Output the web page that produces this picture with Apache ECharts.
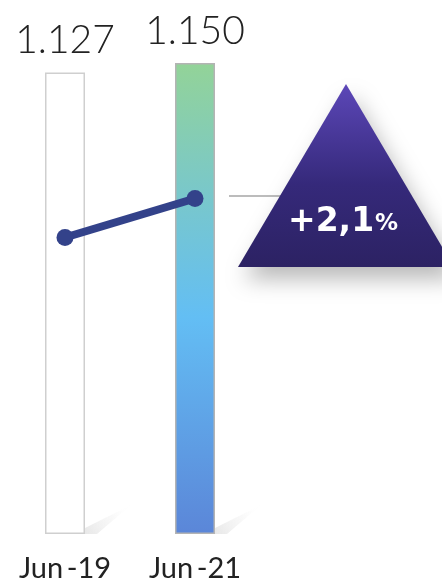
<!DOCTYPE html>
<html>
<head>
<meta charset="utf-8">
<script src="https://cdn.jsdelivr.net/npm/echarts@6/dist/echarts.min.js"></script>
<style>
html,body{margin:0;padding:0;background:#fff;}
#c{width:442px;height:587px;}
</style>
</head>
<body>
<div id="c"></div>
<script>
var categories = ['Jun-19', 'Jun-21'];
var barValues = [1127, 1150];
var barLabels = ['1.127', '1.150'];
var lineValues = [1127, 1150];
var changeLabel = '+2,1';

var chart = echarts.init(document.getElementById('c'));

var shadowSeries = {
  type: 'custom',
  xAxisIndex: 0,
  yAxisIndex: 0,
  silent: true,
  z: 0,
  data: categories.map(function (c, i) { return [i, 0]; }),
  renderItem: function (params, api) {
    var p = api.coord([api.value(0), 0]);
    var rx = p[0] + 20;
    var by = p[1];
    return {
      type: 'polygon',
      shape: { points: [[rx, by], [rx, by - 6], [rx + 46, by - 29], [rx + 12, by]] },
      style: {
        fill: new echarts.graphic.LinearGradient(0, 1, 1, 0, [
          { offset: 0, color: 'rgba(215,215,215,0.6)' },
          { offset: 0.6, color: 'rgba(238,238,238,0.35)' },
          { offset: 1, color: 'rgba(255,255,255,0)' }
        ])
      }
    };
  }
};

var option = {
  animation: false,
  grid: { left: 0, right: 182, top: 63, bottom: 53, containLabel: false },
  xAxis: {
    type: 'category',
    data: categories,
    boundaryGap: true,
    axisLine: { show: false },
    axisTick: { show: false },
    axisLabel: {
      color: '#222',
      fontFamily: 'Lato',
      fontSize: 29,
      margin: 20,
      formatter: function (v) { return v.replace('-', '\u2009-'); }
    }
  },
  yAxis: [
    { type: 'value', min: 0, max: 1150, show: false },
    { type: 'value', min: 952, max: 1230, show: false }
  ],
  series: [
    shadowSeries,
    {
      type: 'bar',
      barWidth: 40,
      z: 2,
      data: barValues.map(function (v, i) {
        if (i === 0) {
          return { value: v, itemStyle: { color: '#ffffff', borderColor: '#cfcfcf', borderWidth: 1.5 } };
        }
        return {
          value: v,
          itemStyle: {
            color: new echarts.graphic.LinearGradient(0, 0, 0, 1, [
              { offset: 0, color: '#93d398' },
              { offset: 0.27, color: '#7ac8c9' },
              { offset: 0.54, color: '#63bef4' },
              { offset: 1, color: '#5b86d8' }
            ]),
            borderColor: '#b4b4b4',
            borderWidth: 1.5
          }
        };
      }),
      label: {
        show: true,
        position: 'top',
        distance: 12,
        color: '#222',
        fontFamily: 'Lato',
        fontWeight: 300,
        fontSize: 39,
        formatter: function (p) { return barLabels[p.dataIndex]; }
      }
    },
    {
      type: 'line',
      yAxisIndex: 1,
      z: 5,
      data: lineValues,
      symbol: 'circle',
      symbolSize: 17,
      lineStyle: { color: '#33428a', width: 8 },
      itemStyle: { color: '#33428a' }
    }
  ],
  graphic: [
    {
      type: 'line',
      z: 10,
      shape: { x1: 229, y1: 196, x2: 290, y2: 196 },
      style: { stroke: '#a6a6a6', lineWidth: 1.5 }
    },
    {
      type: 'polygon',
      z: 11,
      shape: { points: [[346, 84], [454, 267], [238, 267]] },
      style: {
        fill: new echarts.graphic.LinearGradient(0, 0, 0, 1, [
          { offset: 0, color: '#5c47b8' },
          { offset: 0.55, color: '#35297a' },
          { offset: 1, color: '#2c2263' }
        ]),
        shadowBlur: 22,
        shadowColor: 'rgba(0,0,0,0.28)',
        shadowOffsetX: 6,
        shadowOffsetY: 12
      }
    },
    {
      type: 'text',
      z: 12,
      left: 288,
      top: 206,
      style: {
        text: '{a|' + changeLabel + '}{b|%}',
        rich: {
          a: { fontFamily: 'DejaVu Sans', fontWeight: 'bold', fontSize: 33, fill: '#ffffff', color: '#ffffff' },
          b: { fontFamily: 'DejaVu Sans', fontWeight: 'bold', fontSize: 23, fill: '#ffffff', color: '#ffffff', verticalAlign: 'bottom', padding: [0, 0, 3, 1] }
        }
      }
    }
  ]
};
chart.setOption(option);
</script>
</body>
</html>
